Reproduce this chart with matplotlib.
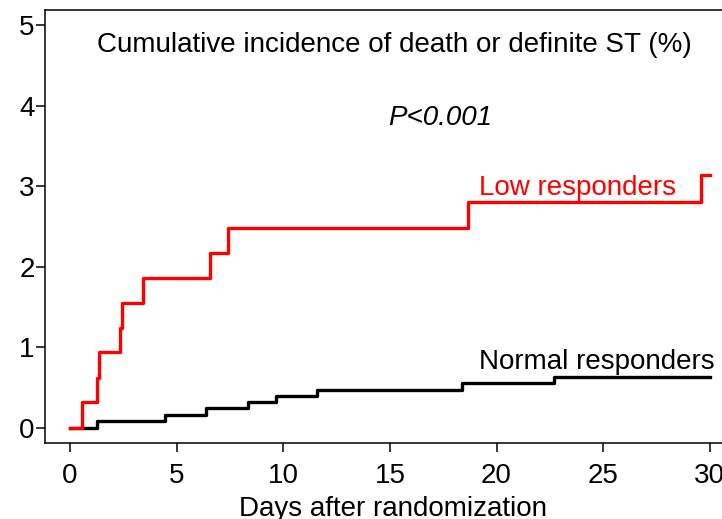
import matplotlib
matplotlib.use('Agg')
import matplotlib.pyplot as plt

plt.rcParams['font.family'] = ['Liberation Sans', 'DejaVu Sans']

# low responders (red) - step times (days) and cumulative incidence (%)
low_days = [0, 0.55, 1.28, 1.34, 2.37, 2.44, 3.44, 6.56, 7.42, 18.65, 29.6, 30]
low_pct = [0, 0.32, 0.62, 0.94, 1.24, 1.55, 1.86, 2.17, 2.48, 2.80, 3.14, 3.14]

# normal responders (black)
normal_days = [0, 1.25, 4.45, 6.4, 8.33, 9.66, 11.6, 18.36, 22.7, 30]
normal_pct = [0, 0.08, 0.16, 0.24, 0.32, 0.40, 0.47, 0.55, 0.63, 0.63]

x_ticks = [0, 5, 10, 15, 20, 25, 30]
y_ticks = [0, 1, 2, 3, 4, 5]

fig = plt.figure(figsize=(7.22, 5.19), dpi=100)
ax = fig.add_axes([0.0623, 0.1464, 0.943, 0.8343])

ax.step(normal_days, normal_pct, where='post', color='black', lw=2.4)
ax.step(low_days, low_pct, where='post', color='red', lw=2.4)

ax.set_xlim(-1.17, 30.75)
ax.set_ylim(-0.19, 5.19)
ax.set_xticks(x_ticks)
ax.set_yticks(y_ticks)
ax.tick_params(direction='out', length=6.5, width=1.1, labelsize=20)
ax.tick_params(axis='x', pad=8)
ax.tick_params(axis='y', pad=1)
for sp in ax.spines.values():
    sp.set_linewidth(1.1)

# label sits low, partly cut by the bottom edge like the original
ax.set_xlabel('Days after randomization', fontsize=20, va='top')
ax.xaxis.set_label_coords(0.511, -0.122)

ax.text(15.2, 4.75, 'Cumulative incidence of death or definite ST (%)',
        fontsize=20, ha='center', va='center')
ax.text(17.35, 3.85, 'P<0.001', fontsize=20, style='italic', ha='center', va='center')
ax.text(19.2, 2.98, 'Low responders', fontsize=20, color='red', va='center')
ax.text(19.2, 0.82, 'Normal responders', fontsize=20, color='black', va='center')

fig.savefig('out.png', dpi=100)
